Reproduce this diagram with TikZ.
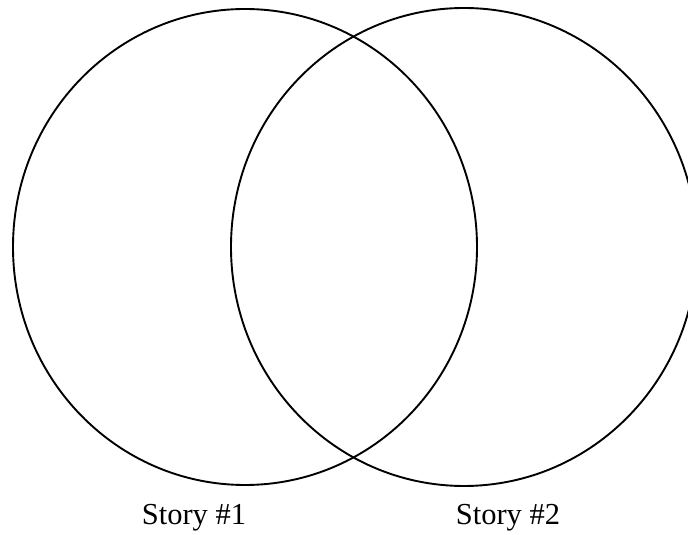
\documentclass[tikz,border=0pt]{standalone}
\usepackage{fontspec}
\setmainfont{Liberation Serif}
\begin{document}
\begin{tikzpicture}[x=1pt,y=1pt,
  ring/.style={draw=black,line width=1.9pt},
  lbl/.style={font=\fontsize{30.5}{36}\selectfont,anchor=base,inner sep=0pt}]
\useasboundingbox (0,0) rectangle (688,535);
\clip (0,0) rectangle (688,535);
\draw[ring] (245,288) ellipse [x radius=232, y radius=238];
\draw[ring] (464,288) ellipse [x radius=233, y radius=239];
\node[lbl] (s1) at (194,10) {Story \#1};
\node[lbl] (s2) at (508,10) {Story \#2};
\end{tikzpicture}
\end{document}
